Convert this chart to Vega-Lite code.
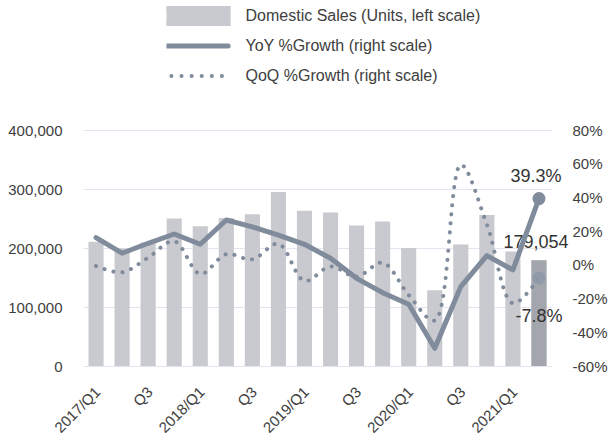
{
  "$schema": "https://vega.github.io/schema/vega-lite/v6.json",
  "width": 469,
  "height": 236,
  "autosize": "none",
  "padding": {"left": 83, "top": 130, "right": 57, "bottom": 72},
  "background": "white",
  "config": {
    "view": {"stroke": null},
    "font": "Liberation Sans",
    "axis": {"labelFont": "Liberation Sans", "labelFontSize": 15, "labelColor": "#404040", "ticks": false, "domain": false, "title": null, "grid": false, "labelOverlap": false},
    "axisRight": {"labelOverlap": false},
    "axisQuantitative": {"labelOverlap": false}
  },
  "data": {
    "values": [
      {"quarter": "2017/Q1", "sales": 210500, "yoy": 16.1, "qoq": -0.7},
      {"quarter": "2017/Q2", "sales": 199000, "yoy": 6.9, "qoq": -4.4},
      {"quarter": "2017/Q3", "sales": 209500, "yoy": 12.8, "qoq": 4.3},
      {"quarter": "2017/Q4", "sales": 250000, "yoy": 18.3, "qoq": 14.0},
      {"quarter": "2018/Q1", "sales": 237000, "yoy": 12.2, "qoq": -5.4},
      {"quarter": "2018/Q2", "sales": 251000, "yoy": 26.6, "qoq": 6.3},
      {"quarter": "2018/Q3", "sales": 257000, "yoy": 22.5, "qoq": 3.3},
      {"quarter": "2018/Q4", "sales": 295000, "yoy": 17.7, "qoq": 12.5},
      {"quarter": "2019/Q1", "sales": 263000, "yoy": 12.2, "qoq": -9.5},
      {"quarter": "2019/Q2", "sales": 260000, "yoy": 3.9, "qoq": -1.0},
      {"quarter": "2019/Q3", "sales": 238000, "yoy": -8.0, "qoq": -7.0},
      {"quarter": "2019/Q4", "sales": 245000, "yoy": -16.5, "qoq": 1.3},
      {"quarter": "2020/Q1", "sales": 200000, "yoy": -23.4, "qoq": -17.9},
      {"quarter": "2020/Q2", "sales": 128500, "yoy": -49.5, "qoq": -33.0},
      {"quarter": "2020/Q3", "sales": 206000, "yoy": -12.9, "qoq": 59.3},
      {"quarter": "2020/Q4", "sales": 256000, "yoy": 5.5, "qoq": 24.0},
      {"quarter": "2021/Q1", "sales": 194000, "yoy": -3.0, "qoq": -22.8},
      {"quarter": "2021/Q2", "sales": 179054, "yoy": 39.3, "qoq": -7.8}
    ]
  },
  "encoding": {
    "x": {
      "field": "quarter", "type": "ordinal", "sort": null,
      "scale": {"paddingInner": 0.42, "paddingOuter": 0.21},
      "axis": {
        "labelAngle": -45, "labelPadding": 18, "labelOffset": -3, "labelFontSize": 15,
        "labelExpr": "indexof(datum.value, 'Q1') >= 0 ? datum.value : (indexof(datum.value, 'Q3') >= 0 ? 'Q3' : '')"
      }
    }
  },
  "layer": [
    {
      "encoding": {
        "y": {
          "field": "sales", "type": "quantitative",
          "scale": {"domain": [0, 400000], "nice": false},
          "axis": {"orient": "left", "grid": true, "gridColor": "#e4e4f0", "gridWidth": 1, "values": [0, 100000, 200000, 300000, 400000], "format": ",d", "labelPadding": 21}
        }
      },
      "layer": [
        {
          "mark": {"type": "bar"},
          "encoding": {
            "color": {
              "datum": "Domestic Sales (Units, left scale)", "type": "nominal",
              "scale": {
                "domain": ["Domestic Sales (Units, left scale)", "YoY %Growth (right scale)", "QoQ %Growth (right scale)"],
                "range": ["#c9cacf", "#808b9b", "#808b9b"]
              },
              "legend": {
                "title": null, "orient": "none", "legendX": 83.5, "legendY": -124, "direction": "vertical",
                "symbolSize": 4900, "symbolStrokeWidth": 5, "clipHeight": 20, "rowPadding": 10,
                "labelOffset": 63, "labelFontSize": 16, "labelFont": "Liberation Sans", "labelColor": "#404040", "labelLimit": 500,
                "padding": 0, "symbolOffset": 0,
                "encode": {
                  "symbols": {
                    "update": {
                      "shape": {"signal": "datum.value === 'Domestic Sales (Units, left scale)' ? 'M-1,-0.15H1V0.15H-1Z' : 'M-1,0H1'"},
                      "size": {"value": 11500},
                      "fill": {"signal": "datum.value === 'Domestic Sales (Units, left scale)' ? '#c9cacf' : 'transparent'"},
                      "stroke": {"signal": "datum.value === 'Domestic Sales (Units, left scale)' ? 'transparent' : '#808b9b'"},
                      "strokeWidth": {"signal": "datum.value === 'QoQ %Growth (right scale)' ? 4 : 5"},
                      "strokeDash": {"signal": "datum.value === 'QoQ %Growth (right scale)' ? [0.1, 10] : [1, 0]"},
                      "strokeCap": {"value": "round"},
                      "opacity": {"value": 1}
                    }
                  }
                }
              }
            }
          }
        },
        {
          "transform": [{"filter": "datum.quarter === '2021/Q2'"}],
          "mark": {"type": "bar", "color": "#a3a6ad"}
        },
        {
          "transform": [{"filter": "datum.quarter === '2021/Q2'"}],
          "mark": {"type": "text", "fontSize": 18, "font": "Liberation Sans", "color": "#333333", "dy": -17, "dx": -3, "baseline": "middle", "align": "center"},
          "encoding": {"text": {"field": "sales", "type": "quantitative", "format": ",d"}}
        }
      ]
    },
    {
      "encoding": {
        "y": {
          "field": "yoy", "type": "quantitative",
          "scale": {"domain": [-60, 80], "nice": false},
          "axis": {"orient": "right", "values": [-60, -40, -20, 0, 20, 40, 60, 80], "labelExpr": "datum.value + '%'", "labelPadding": 20, "labelOverlap": false, "labelBound": false, "labelFlush": false}
        }
      },
      "layer": [
        {
          "mark": {"type": "line", "strokeWidth": 5, "strokeCap": "round", "strokeJoin": "round"},
          "encoding": {
            "color": {"datum": "YoY %Growth (right scale)", "type": "nominal"}
          }
        },
        {
          "mark": {"type": "line", "strokeWidth": 4, "strokeCap": "round", "strokeDash": [0.1, 9], "interpolate": "catmull-rom"},
          "encoding": {
            "y": {"field": "qoq", "type": "quantitative"},
            "color": {"datum": "QoQ %Growth (right scale)", "type": "nominal"}
          }
        },
        {
          "transform": [{"filter": "datum.quarter === '2021/Q2'"}],
          "mark": {"type": "point", "filled": true, "size": 170, "color": "#808b9b", "opacity": 1}
        },
        {
          "transform": [{"filter": "datum.quarter === '2021/Q2'"}],
          "mark": {"type": "point", "filled": true, "size": 170, "color": "#8e98a8", "opacity": 0.85},
          "encoding": {"y": {"field": "qoq", "type": "quantitative"}}
        },
        {
          "transform": [{"filter": "datum.quarter === '2021/Q2'"}, {"calculate": "datum.yoy + '%'", "as": "yoyLabel"}],
          "mark": {"type": "text", "fontSize": 18, "font": "Liberation Sans", "color": "#333333", "dy": -22, "dx": -3, "baseline": "middle", "align": "center"},
          "encoding": {"text": {"field": "yoyLabel", "type": "nominal"}}
        },
        {
          "transform": [{"filter": "datum.quarter === '2021/Q2'"}, {"calculate": "datum.qoq + '%'", "as": "qoqLabel"}],
          "mark": {"type": "text", "fontSize": 18, "font": "Liberation Sans", "color": "#333333", "dy": 39, "dx": 0, "baseline": "middle", "align": "center"},
          "encoding": {"y": {"field": "qoq", "type": "quantitative"}, "text": {"field": "qoqLabel", "type": "nominal"}}
        }
      ]
    }
  ],
  "resolve": {"scale": {"y": "independent"}}
}
